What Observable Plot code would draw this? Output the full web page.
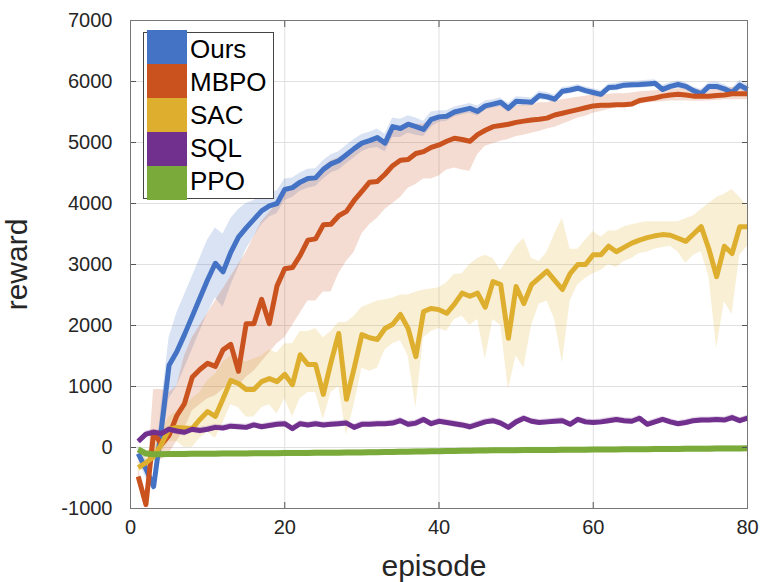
<!DOCTYPE html>
<html><head><meta charset="utf-8">
<script src="https://cdn.jsdelivr.net/npm/d3@7"></script>
<script src="https://cdn.jsdelivr.net/npm/@observablehq/plot@0.6"></script>
<style>
body{margin:0;background:#fff;}
#wrap{position:relative;width:763px;height:582px;font-family:"Liberation Sans",Arial,Helvetica,sans-serif;}
#legend{position:absolute;left:143px;top:32px;width:131px;height:167px;border:1px solid #444;background:#fff;box-sizing:border-box;}
.sw{position:absolute;left:3px;width:40px;}
.lab{position:absolute;left:46px;font-size:26px;line-height:34px;height:34px;color:#000;}
</style></head>
<body><div id="wrap"><div id="chart"></div><div id="legend"></div></div>
<script>
const seriesNames = ["Ours","MBPO","SAC","SQL","PPO"];
const seriesColors = ["#4472C4","#C9521E","#DEAF2F","#72308E","#7AAA3A"];
const xTicks = [0,20,40,60,80];
const yTicks = [-1000,0,1000,2000,3000,4000,5000,6000,7000];
const episodes = Array.from({length:80},(_,i)=>i+1);

const ours = [-100,-350,-640,300,1350,1570,1850,2150,2450,2750,3020,2880,3200,3450,3600,3740,3880,3960,4000,4230,
 4260,4350,4410,4420,4560,4650,4700,4800,4900,4990,5030,5080,4990,5260,5230,5300,5260,5215,5380,5420,
 5430,5500,5530,5560,5510,5600,5630,5660,5560,5675,5670,5660,5770,5750,5710,5840,5860,5890,5850,5820,
 5790,5900,5910,5940,5945,5950,5960,5970,5870,5920,5950,5920,5850,5800,5920,5920,5880,5820,5940,5870];
const oursLo = [-200,-500,-720,0,800,1000,1300,1600,1900,2200,2450,2300,2650,2950,3250,3450,3650,3780,3830,4050,
 4100,4200,4250,4280,4400,4500,4550,4650,4750,4850,4900,4920,4850,5080,5080,5150,5120,5100,5250,5330,
 5350,5420,5450,5480,5430,5530,5560,5590,5490,5600,5600,5600,5700,5690,5650,5780,5800,5830,5790,5760,
 5730,5840,5850,5880,5890,5890,5900,5910,5810,5860,5890,5860,5790,5740,5860,5860,5820,5760,5870,5800];
const oursHi = [0,-200,-560,700,1800,2200,2500,2800,3100,3400,3600,3500,3750,3900,4000,4050,4150,4200,4200,4400,
 4420,4500,4560,4570,4700,4800,4850,4950,5050,5130,5170,5220,5140,5400,5380,5440,5400,5350,5500,5520,
 5520,5580,5610,5640,5600,5680,5700,5730,5640,5750,5740,5730,5840,5820,5780,5900,5920,5950,5910,5880,
 5850,5960,5970,6000,6000,6010,6020,6030,5940,5980,6010,5980,5910,5870,5980,5990,5950,5890,6020,5960];

const mbpo = [-475,-935,250,50,200,520,720,1150,1280,1380,1330,1600,1690,1250,2030,2030,2430,2030,2650,2930,
 2950,3150,3400,3420,3650,3660,3800,3870,4050,4200,4350,4360,4480,4620,4710,4720,4820,4850,4920,4960,
 5020,5070,5050,5020,5130,5200,5260,5280,5300,5330,5350,5370,5380,5400,5450,5480,5510,5540,5570,5600,
 5610,5610,5620,5620,5630,5690,5710,5730,5760,5780,5790,5780,5760,5760,5760,5770,5780,5800,5800,5800];
const mbpoLo = [-600,-1000,-200,-200,-100,100,300,600,700,800,850,950,1050,1000,1150,1250,1400,1550,1700,1800,
 2000,2200,2400,2400,2550,2550,2850,3050,3200,3500,3650,3760,3900,4000,4100,4250,4310,4400,4400,4450,
 4550,4580,4550,4530,4800,4940,4980,5020,5050,5100,5120,5150,5180,5220,5250,5300,5350,5400,5430,5480,
 5510,5540,5570,5600,5610,5625,5650,5660,5670,5680,5680,5680,5675,5675,5680,5690,5700,5700,5700,5700];
const mbpoHi = [-350,-800,950,950,900,1000,1500,1800,2000,2200,2400,2600,2800,3000,3200,3450,3700,3850,4000,4150,
 4250,4350,4400,4450,4600,4700,4750,4800,4900,4950,5000,5050,5050,5200,5250,5300,5300,5300,5380,5420,
 5430,5500,5500,5500,5500,5550,5580,5600,5550,5600,5620,5620,5650,5650,5680,5700,5720,5740,5760,5780,
 5780,5790,5800,5800,5810,5830,5840,5850,5860,5870,5880,5880,5870,5860,5860,5870,5880,5900,5920,5930];

const sac = [-330,-250,-150,50,300,330,320,310,460,590,510,800,1100,1050,950,950,1080,1130,1080,1200,
 1030,1520,1360,1360,870,1400,1870,790,1300,1850,1800,1770,1950,2020,2180,1950,1490,2230,2280,2260,
 2200,2350,2530,2480,2530,2300,2720,2670,1790,2640,2360,2670,2780,2890,2740,2590,2850,3000,3000,3160,
 3160,3300,3210,3280,3350,3400,3440,3470,3490,3480,3430,3380,3500,3620,3250,2800,3300,3180,3620,3620];
const sacLo = [-400,-350,-250,-100,100,100,0,0,150,250,150,400,700,650,500,500,650,700,550,800,
 500,800,900,900,450,900,1000,200,700,1300,1250,1300,1600,1700,1750,1500,650,1800,1900,1950,
 1900,2100,2150,2000,2100,1450,2100,2000,950,1500,1300,2000,2350,2400,2100,1380,2400,2670,2770,2850,
 2900,3000,2950,3050,3100,3180,3200,3250,3280,3300,3200,3020,3150,3210,2800,1620,2390,2180,3150,3300];
const sacHi = [-250,-100,50,250,500,600,700,800,900,1100,1200,1400,1500,1450,1400,1450,1500,1600,1550,1700,
 1700,1900,1900,1950,1800,1900,2050,2050,2150,2300,2350,2400,2420,2450,2500,2500,2550,2580,2600,2620,
 2700,2840,2850,3000,3100,3150,3100,2900,3100,3300,3430,3100,3050,3200,3500,3760,3250,3250,3400,3540,
 3450,3550,3550,3620,3650,3680,3700,3700,3700,3700,3700,3750,3800,3900,4000,4100,4150,4230,4100,3950];

const sql = [100,220,250,230,300,270,250,300,280,300,330,320,350,340,330,370,340,360,380,390,
 310,390,370,390,370,380,390,400,330,380,380,390,390,400,440,380,400,460,390,430,
 410,390,370,340,380,420,440,400,330,420,480,430,410,420,430,440,380,460,420,410,
 420,440,460,440,430,480,380,420,460,420,390,410,440,450,450,460,450,490,440,480];
const sqlLo = [60,170,190,170,240,210,190,240,220,250,280,270,300,290,280,320,290,310,330,340,
 260,340,320,340,320,330,340,350,280,330,330,340,340,350,390,320,340,400,330,380,
 360,330,310,280,330,370,390,350,280,370,430,380,360,370,380,390,330,410,370,360,
 370,390,410,390,380,430,330,370,410,370,340,360,390,400,400,410,400,440,390,430];
const sqlHi = [140,270,300,280,350,320,300,350,330,350,380,370,400,390,380,420,390,410,430,440,
 360,440,420,440,420,430,440,450,380,430,430,440,440,450,490,430,450,510,440,480,
 460,440,420,390,430,470,490,450,380,470,530,480,460,470,480,490,430,510,470,460,
 470,490,510,490,480,530,430,470,510,470,440,460,490,500,500,510,500,540,490,530];

const ppo = [-30,-100,-110,-110,-108,-106,-105,-104,-103,-102,-101,-100,-99,-98,-97,-96,-95,-94,-93,-92,
 -91,-90,-89,-88,-87,-86,-85,-84,-82,-80,-78,-76,-74,-72,-70,-68,-66,-64,-62,-60,
 -58,-56,-54,-52,-50,-48,-47,-46,-45,-44,-43,-42,-41,-40,-39,-38,-37,-36,-35,-34,
 -33,-32,-31,-30,-29,-28,-27,-26,-25,-24,-23,-22,-21,-20,-19,-18,-17,-16,-15,-14];
const ppoLo = [-80,-150,-160,-160,-155,-150,-150,-150,-148,-146,-145,-145,-144,-143,-142,-141,-140,-139,-138,-137,
 -136,-135,-134,-133,-132,-131,-130,-129,-127,-125,-123,-121,-119,-117,-115,-113,-111,-109,-107,-105,
 -103,-101,-99,-97,-95,-93,-92,-91,-90,-89,-88,-87,-86,-85,-84,-83,-82,-81,-80,-79,
 -78,-77,-76,-75,-74,-73,-72,-71,-70,-69,-68,-67,-66,-65,-64,-63,-62,-61,-60,-59];
const ppoHi = [20,-50,-60,-60,-60,-60,-60,-58,-58,-58,-56,-55,-54,-53,-52,-51,-50,-49,-48,-47,
 -46,-45,-44,-43,-42,-41,-40,-39,-37,-35,-33,-31,-29,-27,-25,-23,-21,-19,-17,-15,
 -13,-11,-9,-7,-5,-3,-2,-1,0,1,2,3,4,5,6,7,8,9,10,11,
 12,13,14,15,16,17,18,19,20,21,22,23,24,25,26,27,28,29,30,31];

const means = [ours, mbpo, sac, sql, ppo];
const los = [oursLo, mbpoLo, sacLo, sqlLo, ppoLo];
const his = [oursHi, mbpoHi, sacHi, sqlHi, ppoHi];

const tables = seriesNames.map((name, s) => episodes.map((ep, i) => ({
  series: name, episode: ep, value: means[s][i], lo: los[s][i], hi: his[s][i]
})));

const bands = tables.map((t, s) => Plot.areaY(t, {x: "episode", y1: "lo", y2: "hi", fill: seriesColors[s], fillOpacity: 0.2}));
const lines = tables.map((t, s) => Plot.line(t, {x: "episode", y: "value", stroke: seriesColors[s], strokeWidth: s === 4 ? 6 : 5, strokeLinejoin: "round", strokeLinecap: "butt"}));

const fmt = d => String(d);

const chart = Plot.plot({
  width: 763, height: 582,
  marginLeft: 130, marginRight: 16, marginTop: 20, marginBottom: 74,
  style: {fontFamily: "'Liberation Sans', Arial, sans-serif", fontSize: "20px", color: "#262626", background: "white"},
  x: {domain: [0, 80]},
  y: {domain: [-1000, 7000]},
  marks: [
    Plot.gridX(xTicks, {stroke: "#e0e0e0", strokeOpacity: 1}),
    Plot.gridY(yTicks, {stroke: "#e0e0e0", strokeOpacity: 1}),
    ...bands,
    ...lines,
    Plot.axisX(xTicks, {anchor: "bottom", tickSize: -6, tickPadding: 17, tickFormat: fmt, label: null, stroke: "#555", fill: "#262626"}),
    Plot.axisX(xTicks, {anchor: "top", tickSize: -6, tickFormat: () => "", label: null, stroke: "#555"}),
    Plot.axisY(yTicks, {anchor: "left", tickSize: -6, tickPadding: 24, tickFormat: fmt, label: null, stroke: "#555", fill: "#262626"}),
    Plot.axisY(yTicks, {anchor: "right", tickSize: -6, tickFormat: () => "", label: null, stroke: "#555"}),
    Plot.frame({stroke: "#777"}),
    Plot.text(["episode"], {text: d => d, frameAnchor: "bottom", textAnchor: "middle", dx: -5, dy: 67, fontSize: 30, fill: "#262626"}),
    Plot.text(["reward"], {text: d => d, frameAnchor: "left", textAnchor: "middle", rotate: -90, dx: -113, fontSize: 30, fill: "#262626"})
  ]
});
document.getElementById("chart").appendChild(chart);

const legend = document.getElementById("legend");
seriesNames.forEach((name, i) => {
  const sw = document.createElement("div");
  sw.className = "sw";
  sw.style.top = (-3 + i * 34) + "px";
  sw.style.height = "34px";
  sw.style.background = seriesColors[i];
  legend.appendChild(sw);
  const lab = document.createElement("div");
  lab.className = "lab";
  lab.style.top = (-1 + i * 33) + "px";
  lab.textContent = name;
  legend.appendChild(lab);
});
</script>
</body></html>
